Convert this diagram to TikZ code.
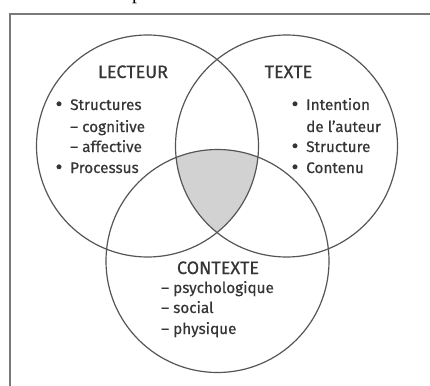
\documentclass[tikz,border=0pt]{standalone}
\usepackage{fontspec}
\setmainfont{Fira Sans}[FakeBold=0.5]
\newfontfamily\serifpart{Liberation Serif}
\definecolor{txt}{HTML}{353535}
\definecolor{ring}{HTML}{555555}
\definecolor{midgray}{HTML}{D2D2D2}
\definecolor{framec}{HTML}{7A7A7A}
\begin{document}
\begin{tikzpicture}[x=1pt,y=-1pt,
  ring/.style={draw=ring,line width=1.2pt},
  title/.style={text=txt,font=\fontsize{18}{21}\selectfont,inner sep=0pt,anchor=base},
  item/.style={text=txt,font=\fontsize{15.3}{18}\selectfont,inner sep=0pt,anchor=base west},
  bul/.style={text=txt,font=\fontsize{21}{24}\selectfont,inner sep=0pt,anchor=base}]
\useasboundingbox (0,0) rectangle (430,385);
\fill[white] (0,0) rectangle (430,385);
% cut caption fragment
\node[inner sep=0pt,anchor=base west,font=\serifpart\fontsize{20}{24}\selectfont] (cap) at (132,-0.5) {p};
% frame
\coordinate (fbl) at (10,386);
\coordinate (ftl) at (10,14);
\coordinate (ftr) at (431,14);
\draw[framec,line width=1.5pt] (fbl) -- (ftl) -- (ftr);
% shaded centre
\begin{scope}
  \clip (147.5,146) circle (111);
  \clip (286.5,146) circle (111);
  \fill[midgray] (217.5,261) circle (111.5);
\end{scope}
% circles
\node[ring,circle,minimum size=222pt,inner sep=0pt] (lect) at (147.5,146) {};
\node[ring,circle,minimum size=222pt,inner sep=0pt] (texte) at (286.5,146) {};
\node[ring,circle,minimum size=223pt,inner sep=0pt] (ctx) at (217.5,261) {};
% LECTEUR
\node[title] (tl) at (133,78) {LECTEUR};
\node[bul] (b1) at (59,111) {•};
\node[item] (l1) at (70,110) {Structures};
\node[item] (l2) at (70,132) {– cognitive};
\node[item] (l3) at (70,152) {– affective};
\node[bul] (b2) at (59,174) {•};
\node[item] (l4) at (70,173) {Processus};
% TEXTE
\node[title] (tt) at (288.5,78) {TEXTE};
\node[bul] (b3) at (295,111) {•};
\node[item] (t1) at (306,110) {Intention};
\node[item] (t2) at (306,132) {de l’auteur};
\node[bul] (b4) at (295,153) {•};
\node[item] (t3) at (306,152) {Structure};
\node[bul] (b5) at (295,174) {•};
\node[item] (t4) at (306,173) {Contenu};
% CONTEXTE
\node[title] (tc) at (218,274) {CONTEXTE};
\node[item] (c1) at (161,293) {– psychologique};
\node[item] (c2) at (161,313) {– social};
\node[item] (c3) at (161,334) {– physique};
\end{tikzpicture}
\end{document}
